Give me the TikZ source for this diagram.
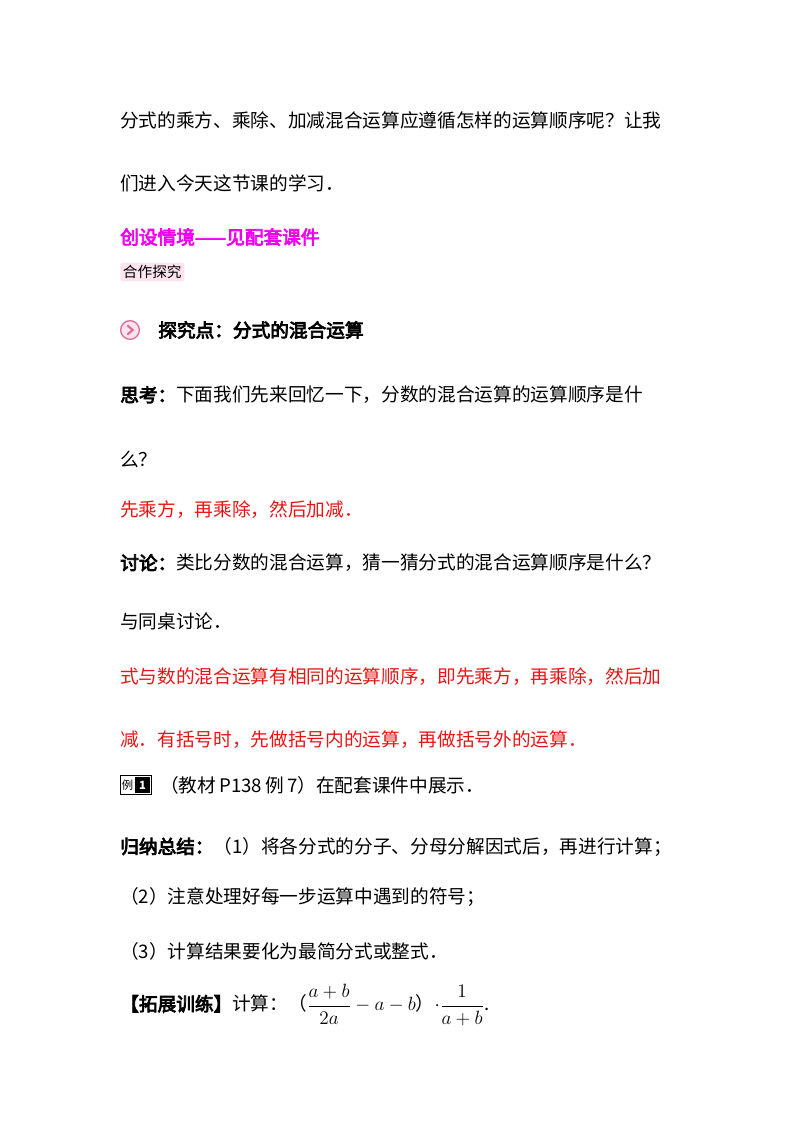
\documentclass[tikz,border=0pt]{standalone}
\usepackage{amsmath}
\usepackage{fontspec}
\setmainfont{Liberation Serif}
\newfontfamily\cjk{Noto Sans CJK SC}
\newfontfamily\cjkb{Noto Sans CJK SC}[FakeBold=4]
\definecolor{mag}{RGB}{240,0,240}
\definecolor{rd}{RGB}{235,20,20}
\definecolor{pinkbg}{RGB}{252,228,238}
\definecolor{ic}{RGB}{220,110,150}
\begin{document}
\begin{tikzpicture}[x=0.75pt,y=-0.75pt,
  t/.style={anchor=west,inner sep=0pt,font=\fontsize{14pt}{16pt}\cjk},
  tb/.style={anchor=west,inner sep=0pt,font=\fontsize{14pt}{16pt}\cjkb}]
\useasboundingbox (0,0) rectangle (800,1132);
\node[t] (l1) at (120,120) {分式的乘方、乘除、加减混合运算应遵循怎样的运算顺序呢？让我};
\node[t] (l2) at (120,183) {们进入今天这节课的学习．};
\node[tb,text=mag] (l3) at (120,237) {创设情境——见配套课件};
\node[anchor=west,fill=pinkbg,rounded corners=2pt,inner sep=2pt,font=\fontsize{11pt}{13pt}\cjk] (l4) at (120,272) {合作探究};
\node[circle,draw=ic,fill=pinkbg,line width=1pt,minimum size=14pt,inner sep=0pt] (ic) at (130,330) {};
\draw[ic,line width=1.6pt] ([xshift=-2pt,yshift=3.5pt]ic.center) -- ([xshift=2pt]ic.center) -- ([xshift=-2pt,yshift=-3.5pt]ic.center);
\node[tb] (l5) at (158,330) {探究点：分式的混合运算};
\node[t] (l6) at (120,395) {{\cjkb 思考：}下面我们先来回忆一下，分数的混合运算的运算顺序是什};
\node[t] (l7) at (120,459) {么？};
\node[t,text=rd] (l8) at (120,510) {先乘方，再乘除，然后加减．};
\node[t] (l9) at (120,563) {{\cjkb 讨论：}类比分数的混合运算，猜一猜分式的混合运算顺序是什么？};
\node[t] (l10) at (120,621) {与同桌讨论．};
\node[t,text=rd] (l11) at (120,677) {式与数的混合运算有相同的运算顺序，即先乘方，再乘除，然后加};
\node[t,text=rd] (l12) at (120,740) {减．有括号时，先做括号内的运算，再做括号外的运算．};
\node[anchor=west,draw,line width=0.7pt,inner sep=1pt,font=\fontsize{8.5pt}{9pt}\cjk] (ex) at (120,785) {例\,\colorbox{black}{\textcolor{white}{\bfseries 1}}};
\node[t] (l13) at (160,785) {（教材\,P138\,例\,7）在配套课件中展示．};
\node[t] (l14) at (120,847) {{\cjkb 归纳总结：}（1）将各分式的分子、分母分解因式后，再进行计算；};
\node[t] (l15) at (120,897) {（2）注意处理好每一步运算中遇到的符号；};
\node[t] (l16) at (120,951) {（3）计算结果要化为最简分式或整式．};
\node[t] (l17) at (120,1005) {{\cjkb 【拓展训练】}计算：（$\dfrac{a+b}{2a}-a-b$）$\cdot\dfrac{1}{a+b}$.};
\end{tikzpicture}
\end{document}
